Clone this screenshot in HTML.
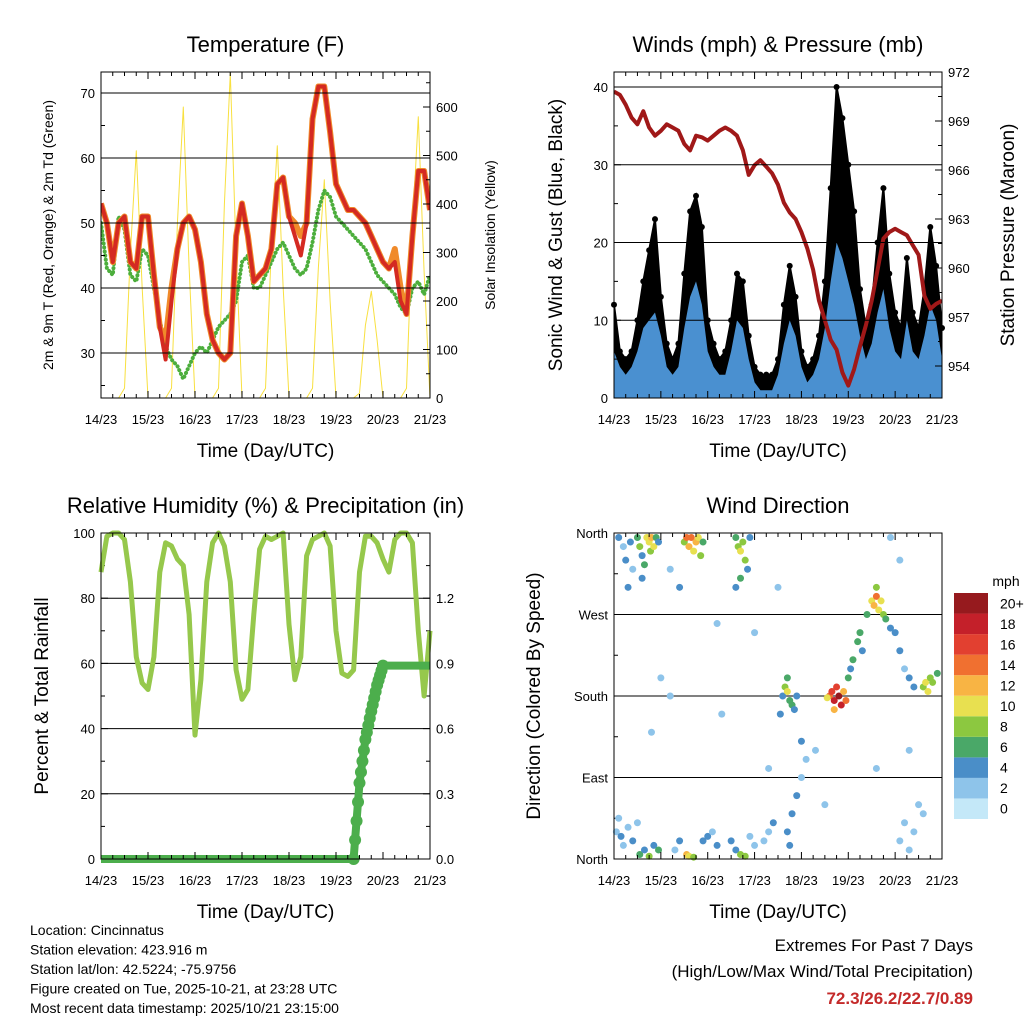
<!DOCTYPE html>
<html><head><meta charset="utf-8"><style>
html,body{margin:0;padding:0;background:#fff}
svg{display:block;font-family:"Liberation Sans",sans-serif}
</style></head><body>
<svg id="s" width="1024" height="1024" viewBox="0 0 1024 1024" xmlns="http://www.w3.org/2000/svg"></svg>
<script>
// ---- data ----
const dayLabels=["14/23","15/23","16/23","17/23","18/23","19/23","20/23","21/23"];
const tempRed=[53,50,44,50,51,44,43,51,51,42,34,29,38,46,50,51,49,44,36,32,30,29,30,48,53,48,41,42,43,46,56,57,51,48,45,50,66,71,71,64,56,54,52,52,51,50,48,46,44,43,44,38,36,48,58,58,52];
const tempOrange=[53,50,44,50,51,44,43,51,51,42,34,32,40,46,50,51,49,44,36,32,30,29,30,48,53,48,41,42,43,46,56,57,51,50,48,50,66,71,71,64,56,54,52,52,51,50,48,46,44,43,46,40,36,48,58,58,52];
const dewGreen=[50,43,42,51,49,42,41,46,45,40,35,31,29,28,26,28,30,31,30,32,34,35,36,38,44,45,40,40,42,44,46,47,45,43,42,43,47,52,55,54,51,50,49,48,47,46,44,42,41,40,39,37,36,40,41,39,42];
const solar=[0,0,0,0,20,300,510,230,0,0,0,0,20,360,600,270,0,0,0,0,20,400,670,300,0,0,0,0,20,310,520,230,0,0,0,0,20,270,450,200,0,0,0,0,10,150,220,120,0,0,0,0,20,350,580,260,0];
const gust=[12,6,5,6,10,15,19,23,13,7,5,7,16,24,26,22,10,7,5,6,10,16,15,8,4,3,3,3,5,12,17,13,6,4,5,8,15,27,40,36,30,24,14,9,12,20,27,16,11,9,18,11,9,14,22,17,9];
const wind=[6,4,3,4,6,9,10,11,8,4,3,4,9,13,15,12,6,4,3,3,6,10,9,5,2,1,1,1,3,7,10,8,4,2,3,5,9,15,20,18,15,12,8,5,7,11,14,9,6,5,10,6,5,8,12,10,5];
const pressure=[970.8,970.6,970.0,969.2,968.8,969.6,968.6,968.1,968.4,968.8,968.6,968.4,967.6,967.2,968.1,968.0,967.8,968.1,968.4,968.6,968.4,968.1,967.2,965.7,966.3,966.6,966.2,965.8,965.1,964.0,963.4,963.0,962.2,961.2,959.9,958.0,956.8,955.6,955.0,953.6,952.8,953.8,955.2,956.5,958.0,959.9,961.8,962.2,962.4,962.2,962.0,961.4,960.8,958.3,957.5,957.8,958.0];
const rh=[88,99,100,100,98,85,62,54,52,62,88,97,96,92,90,75,38,55,85,97,100,96,85,58,49,52,75,95,99,98,99,100,72,55,62,93,98,99,100,96,70,57,56,58,88,99,99,97,92,88,98,100,100,97,70,50,70];
const precip=[0,0,0,0,0,0,0,0,0,0,0,0,0,0,0,0,0,0,0,0,0,0,0,0,0,0,0,0,0,0,0,0,0,0,0,0,0,0,0,0,0,0,0,0,0.35,0.55,0.68,0.8,0.89,0.89,0.89,0.89,0.89,0.89,0.89,0.89,0.89];
const dirDay=[0.1,0.2,0.25,0.35,0.4,0.5,0.55,0.6,0.7,0.75,0.78,0.8,0.85,0.9,0.95,0.3,0.6,0.65,0.05,0.15,0.2,0.3,0.4,0.55,0.65,0.75,0.85,0.95,0.1,0.5,1.5,1.55,1.6,1.65,1.7,1.75,1.8,1.85,1.9,1.4,1.2,1.55,1.6,1.7,1.9,2.0,2.1,2.2,1.3,1.4,2.6,2.65,2.7,2.75,2.8,2.85,2.7,2.6,2.9,2.6,2.7,2.8,2.5,2.9,3.0,3.2,3.3,3.4,3.6,3.65,3.7,3.75,3.8,3.85,3.9,3.7,3.55,3.7,3.8,3.9,4.0,4.1,3.75,4.0,4.6,4.65,4.7,4.75,4.8,4.85,4.9,4.95,4.55,4.7,5.0,5.1,5.2,5.3,5.05,5.25,5.4,5.5,5.55,5.6,5.65,5.7,5.75,5.8,5.6,5.9,6.0,6.1,6.2,6.3,6.4,6.6,6.65,6.7,6.75,6.8,6.9,6.1,6.2,6.3,6.4,6.5,6.6,1.2,2.3,3.0,3.3,4.3,4.5,5.6,6.1,2.2,1.0,0.8,5.9,6.3,3.5];
const dirDeg=[355,345,330,350,320,355,345,335,355,350,340,355,345,355,350,300,310,325,30,25,15,35,20,5,10,3,15,10,45,40,350,355,345,355,340,350,355,335,350,300,320,5,3,2,20,25,30,15,10,20,355,345,340,350,330,320,310,300,355,10,5,3,20,25,15,20,30,40,180,190,185,175,170,165,180,200,160,30,50,70,90,110,15,130,180,185,175,190,180,170,185,175,178,165,200,220,240,230,210,250,270,285,280,290,275,285,270,265,300,255,250,230,210,200,190,190,195,185,200,195,205,20,40,10,30,60,50,180,160,250,100,120,60,100,330,260,200,140,355,120,300];
const dirSpd=[3,2,4,3,2,5,8,4,9,10,7,12,9,6,4,4,3,6,2,3,1,2,3,6,4,8,3,5,1,2,8,14,12,13,10,11,9,8,6,3,2,12,10,8,4,3,2,4,2,3,6,8,10,8,7,4,5,3,4,4,7,8,3,2,2,1,2,3,4,8,10,6,5,4,3,6,3,3,4,3,2,2,3,4,14,16,18,15,20,17,12,13,10,12,5,6,5,4,4,6,6,10,12,13,10,9,7,5,8,4,4,3,2,3,4,8,10,9,8,7,6,1,2,1,2,1,2,1,1,1,1,1,1,1,1,2,1,1,1,1,1];
const cbLabels=["0","2","4","6","8","10","12","14","16","18","20+"];
const cbColors=["#c4e8f8","#8ec4ea","#4a8ec8","#4aa868","#8cc840","#e8e050","#f8b444","#f07030","#e24030","#c4202a","#961a1e"];

const NS="http://www.w3.org/2000/svg";
const svg=document.getElementById('s');
function mk(tag,attrs,parent,name,inter){
  const e=document.createElementNS(NS,tag);
  for(const k in attrs)e.setAttribute(k,attrs[k]);
  
  
  (parent||svg).appendChild(e);return e;
}
function txt(x,y,s,size,anchor,name,extra){
  const t=mk('text',Object.assign({x:x,y:y,'font-size':size,'text-anchor':anchor||'middle',fill:'#000'},extra||{}),svg,name,false);
  t.textContent=s;return t;
}
function lin(lo,hi,a,b){return v=>a+(v-lo)*(b-a)/(hi-lo);}

function frame(L,T,R,B,title,name){
  mk('rect',{x:L,y:T,width:R-L,height:B-T,fill:'none',stroke:'#000','stroke-width':1},svg,name+'-frame',false);
  txt((L+R)/2,T-20,title,22,'middle',name+'-title');
  const X=lin(0,7,L,R);
  dayLabels.forEach((d,i)=>{
    const x=X(i);
    mk('line',{x1:x,y1:B,x2:x,y2:B-7,stroke:'#000'},svg,'x-tick',false);
    mk('line',{x1:x,y1:T,x2:x,y2:T+7,stroke:'#000'},svg,'x-tick-top',false);
    txt(x,B+26,d,13,'middle','x-tick-label');
    if(i<7)for(let k=1;k<4;k++){const xm=X(i+k/4);
      mk('line',{x1:xm,y1:B,x2:xm,y2:B-4,stroke:'#000'},svg,'x-minor-tick',false);
      mk('line',{x1:xm,y1:T,x2:xm,y2:T+4,stroke:'#000'},svg,'x-minor-tick-top',false);}
  });
  txt((L+R)/2,B+59,'Time (Day/UTC)',19,'middle',name+'-x-axis-title');
  return X;
}
function yaxis(Y,ticks,labels,L,R,side,grid,minor){
  ticks.forEach((v,i)=>{
    const y=Y(v);
    if(grid)mk('line',{x1:L,y1:y,x2:R,y2:y,stroke:'#000','stroke-width':1},svg,'grid-line',false);
    if(side==='left'){mk('line',{x1:L,y1:y,x2:L+7,y2:y,stroke:'#000'},svg,'y-tick',false);txt(L-6,y+5,labels[i],13,'end','y-tick-label');}
    else{mk('line',{x1:R,y1:y,x2:R-7,y2:y,stroke:'#000'},svg,'y2-tick',false);txt(R+6,y+5,labels[i],13,'start','y2-tick-label');}
  });
  (minor||[]).forEach(v=>{const y=Y(v);
    if(side==='left')mk('line',{x1:L,y1:y,x2:L+4,y2:y,stroke:'#000'},svg,'y-minor-tick',false);
    else mk('line',{x1:R,y1:y,x2:R-4,y2:y,stroke:'#000'},svg,'y2-minor-tick',false);});
}
function path(X,Y,arr,step,attrs,name){
  const d=arr.map((v,i)=>(i?'L':'M')+X(i*step).toFixed(1)+' '+Y(v).toFixed(1)).join(' ');
  return mk('path',Object.assign({d:d,fill:'none','stroke-linejoin':'round'},attrs),svg,name,false);
}
const step=1/8;

// ---- Panel 1: Temperature ----
(function(){
  const L=101,T=72,R=430,B=398;
  const X=lin(0,7,L,R);
  const Y=lin(30,70,353,93);const Ys=lin(0,600,398,107);
  const cp=mk('clipPath',{id:'c1'},svg,'clip',false);mk('rect',{x:L,y:T,width:R-L,height:B-T},cp,'clip-rect',false);
  path(X,Ys,solar,step,{stroke:'#f8e040','stroke-width':1,'clip-path':'url(#c1)'},'solar-line');
  path(X,Y,dewGreen,step,{stroke:'#4cae3c','stroke-width':4,'stroke-dasharray':'0.1 4','stroke-linecap':'round','clip-path':'url(#c1)'},'dewpoint-line');
  path(X,Y,tempOrange,step,{stroke:'#f08a2a','stroke-width':6,'clip-path':'url(#c1)'},'temp-9m-line');
  path(X,Y,tempRed,step,{stroke:'#d42a22','stroke-width':4,'clip-path':'url(#c1)'},'temp-2m-line');
  yaxis(Y,[30,40,50,60,70],["30","40","50","60","70"],L,R,'left',true,[25,35,45,55,65]);
  yaxis(Ys,[0,100,200,300,400,500,600],["0","100","200","300","400","500","600"],L,R,'right',false,[50,150,250,350,450,550,650]);
  frame(L,T,R,B,'Temperature (F)','temperature-panel');
  txt(0,0,'2m & 9m T (Red, Orange) & 2m Td (Green)',14,'middle','temp-y-axis-title',{transform:'translate(53,235) rotate(-90)'});
  txt(0,0,'Solar Insolation (Yellow)',14,'middle','solar-y-axis-title',{transform:'translate(495,235) rotate(-90)'});
})();

// ---- Panel 2: Winds ----
(function(){
  const L=614,T=72,R=942,B=398;
  const X=lin(0,7,L,R);const Y=lin(0,40,398,87);const Yp=lin(954,972,366,72);
  const cp=mk('clipPath',{id:'c2'},svg,'clip',false);mk('rect',{x:L,y:T,width:R-L,height:B-T},cp,'clip-rect',false);
  let d='M'+X(0)+' '+Y(1);gust.forEach((v,i)=>d+=' L'+X(i*step).toFixed(1)+' '+Y(v).toFixed(1));d+=' L'+X(7)+' '+Y(1)+'Z';
  mk('path',{d:d,fill:'#000','stroke':'#000','stroke-width':2,'clip-path':'url(#c2)'},svg,'gust-area',false);
  gust.forEach((v,i)=>{mk('circle',{cx:X(i*step),cy:Y(v),r:3,fill:'#000'},svg,'gust-point',false);});
  let d2='M'+X(0)+' '+Y(0);wind.forEach((v,i)=>d2+=' L'+X(i*step).toFixed(1)+' '+Y(v).toFixed(1));d2+=' L'+X(7)+' '+Y(0)+'Z';
  mk('path',{d:d2,fill:'#4a90d0','clip-path':'url(#c2)'},svg,'wind-area',false);
  path(X,Yp,pressure,step,{stroke:'#a01818','stroke-width':4,'clip-path':'url(#c2)'},'pressure-line');
  yaxis(Y,[0,10,20,30,40],["0","10","20","30","40"],L,R,'left',true,[5,15,25,35]);
  yaxis(Yp,[954,957,960,963,966,969,972],["954","957","960","963","966","969","972"],L,R,'right',false,[955.5,958.5,961.5,964.5,967.5,970.5]);
  frame(L,T,R,B,'Winds (mph) & Pressure (mb)','winds-panel');
  txt(0,0,'Sonic Wind & Gust (Blue, Black)',19,'middle','wind-y-axis-title',{transform:'translate(562,235) rotate(-90)'});
  txt(0,0,'Station Pressure (Maroon)',19,'middle','pressure-y-axis-title',{transform:'translate(1014,235) rotate(-90)'});
})();

// ---- Panel 3: RH ----
(function(){
  const L=101,T=533,R=430,B=859;
  const X=lin(0,7,L,R);const Y=lin(0,100,859,533);const Yr=lin(0,1.5,859,533);
  yaxis(Y,[0,20,40,60,80,100],["0","20","40","60","80","100"],L,R,'left',true,[10,30,50,70,90]);
  yaxis(Yr,[0,0.3,0.6,0.9,1.2,1.5],["0.0","0.3","0.6","0.9","1.2",""],L,R,'right',false,[0.15,0.45,0.75,1.05,1.35]);
  path(X,Y,rh,step,{stroke:'#96c84c','stroke-width':5},'rh-line');
  path(X,Yr,precip,step,{stroke:'#4cae4c','stroke-width':8},'precip-line');
  precip.forEach((v,i)=>{if(i>42&&i<49){
    mk('circle',{cx:X(i*step),cy:Yr(v),r:6,fill:'#4cae4c'},svg,'precip-point',false);
    if(i<48){const nv=precip[i+1];for(let k=1;k<4;k++){
      mk('circle',{cx:X((i+k/4)*step),cy:Yr(v+(nv-v)*k/4),r:6,fill:'#4cae4c'},svg,'precip-point',false);}}
  }});
  frame(L,T,R,B,'Relative Humidity (%) & Precipitation (in)','humidity-panel');
  txt(0,0,'Percent & Total Rainfall',19,'middle','rh-y-axis-title',{transform:'translate(48,696) rotate(-90)'});
})();

// ---- Panel 4: Wind direction ----
(function(){
  const L=614,T=533,R=942,B=859;
  const X=lin(0,7,L,R);const Y=lin(0,360,859,533);
  yaxis(Y,[0,90,180,270,360],["North","East","South","West","North"],L,R,'left',true,[45,135,225,315]);
  function col(s){let k=Math.min(10,Math.max(0,Math.floor((s+1)/2)));return cbColors[k];}
  dirDay.forEach((d,i)=>{
    mk('circle',{cx:X(d),cy:Y(dirDeg[i]),r:3.5,fill:col(dirSpd[i])},svg,'direction-point',false);
  });
  frame(L,T,R,B,'Wind Direction','direction-panel');
  txt(0,0,'Direction (Colored By Speed)',19,'middle','direction-y-axis-title',{transform:'translate(540,696) rotate(-90)'});
  const cbT=593,cbB=819,h=(cbB-cbT)/11;
  txt(1006,586,'mph',14,'middle','colorbar-title');
  cbColors.forEach((c,i)=>{
    const y=cbB-(i+1)*h;
    mk('rect',{x:954,y:y,width:34,height:h,fill:c},svg,'colorbar-box',false);
    txt(1000,y+h/2+5,cbLabels[i],14,'start','colorbar-label');
  });
})();

// ---- footer ----
["Location: Cincinnatus","Station elevation: 423.916 m","Station lat/lon: 42.5224; -75.9756","Figure created on Tue, 2025-10-21, at 23:28 UTC","Most recent data timestamp: 2025/10/21 23:15:00"].forEach((s,i)=>{
  txt(30,935+i*19.5,s,14,'start','footer-line');
});
txt(973,951,'Extremes For Past 7 Days',17,'end','extremes-title');
txt(973,977,'(High/Low/Max Wind/Total Precipitation)',17,'end','extremes-subtitle');
txt(973,1004,'72.3/26.2/22.7/0.89',17,'end','extremes-values',{fill:'#c42a2a','font-weight':'bold'});
</script>
</body></html>
